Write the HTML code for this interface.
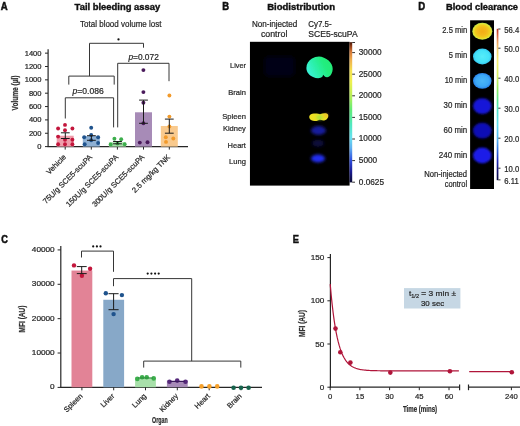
<!DOCTYPE html>
<html><head><meta charset="utf-8"><style>
html,body{margin:0;padding:0;background:#fff;}
svg{display:block;will-change:transform;}
svg text{font-family:"Liberation Sans",sans-serif;stroke:#2a2a2a;stroke-width:0.22px;}
</style></head><body>
<svg width="520" height="426" viewBox="0 0 520 426">
<rect width="520" height="426" fill="#fff"/>
<defs>
<linearGradient id="cbB" x1="0" y1="0" x2="0" y2="1">
<stop offset="0" stop-color="#401408"/><stop offset="0.027" stop-color="#903c18"/><stop offset="0.07" stop-color="#d87a38"/><stop offset="0.127" stop-color="#f0b050"/>
<stop offset="0.2" stop-color="#f4e050"/><stop offset="0.284" stop-color="#eef050"/><stop offset="0.384" stop-color="#b8f058"/><stop offset="0.484" stop-color="#60ec78"/>
<stop offset="0.59" stop-color="#50e8c0"/><stop offset="0.683" stop-color="#68e0f0"/><stop offset="0.755" stop-color="#60b0f0"/><stop offset="0.84" stop-color="#3050e0"/>
<stop offset="0.925" stop-color="#1a1a90"/><stop offset="1" stop-color="#0a0a30"/></linearGradient>
<linearGradient id="cbD" x1="0" y1="0" x2="0" y2="1">
<stop offset="0" stop-color="#b83020"/><stop offset="0.04" stop-color="#d86040"/><stop offset="0.087" stop-color="#eca060"/><stop offset="0.14" stop-color="#f4d070"/>
<stop offset="0.22" stop-color="#f8f070"/><stop offset="0.325" stop-color="#d0f060"/><stop offset="0.4" stop-color="#90ec60"/><stop offset="0.47" stop-color="#58e890"/>
<stop offset="0.54" stop-color="#50e4c8"/><stop offset="0.635" stop-color="#60dcf0"/><stop offset="0.735" stop-color="#50b0f0"/><stop offset="0.8" stop-color="#3070e0"/>
<stop offset="0.866" stop-color="#2030c0"/><stop offset="0.93" stop-color="#141478"/><stop offset="1" stop-color="#0a0a40"/></linearGradient>
<linearGradient id="liv" x1="0" y1="0.7" x2="1" y2="0.3"><stop offset="0" stop-color="#3cf2dc"/><stop offset="0.35" stop-color="#2cf0ac"/><stop offset="0.7" stop-color="#22ee7e"/><stop offset="1" stop-color="#26ea76"/></linearGradient>
<filter id="bl1" x="-30%" y="-30%" width="160%" height="160%"><feGaussianBlur stdDeviation="0.6"/></filter>
<filter id="bl2" x="-50%" y="-50%" width="200%" height="200%"><feGaussianBlur stdDeviation="1.4"/></filter>
<filter id="bl4" x="-30%" y="-30%" width="160%" height="160%"><feGaussianBlur stdDeviation="0.85"/></filter>
<filter id="bl3" x="-50%" y="-50%" width="200%" height="200%"><feGaussianBlur stdDeviation="2"/></filter>
<radialGradient id="c1" cx="0.5" cy="0.5" r="0.5"><stop offset="0" stop-color="#f2ac18"/><stop offset="0.45" stop-color="#f2b81a"/><stop offset="0.72" stop-color="#f0cc1c"/><stop offset="0.88" stop-color="#e6e034"/><stop offset="1" stop-color="#b4e448"/></radialGradient>
<radialGradient id="c2" cx="0.5" cy="0.5" r="0.5"><stop offset="0" stop-color="#56ecfa"/><stop offset="0.75" stop-color="#44e2f8"/><stop offset="1" stop-color="#34c4f0"/></radialGradient>
<radialGradient id="c3" cx="0.5" cy="0.5" r="0.5"><stop offset="0" stop-color="#4ab6f8"/><stop offset="0.7" stop-color="#3ca8f6"/><stop offset="1" stop-color="#2a84ec"/></radialGradient>
</defs>
<text x="0.80" y="9.6" font-size="11.0" font-weight="bold" fill="#111" textLength="6.90" lengthAdjust="spacingAndGlyphs" style="stroke:#111;stroke-width:0.55px">A</text>
<text x="74.60" y="9.9" font-size="9.1" font-weight="bold" fill="#111" textLength="85.60" lengthAdjust="spacingAndGlyphs" style="stroke:#111;stroke-width:0.38px">Tail bleeding assay</text>
<text x="80.10" y="27.0" font-size="9.0" fill="#1e1e1e" textLength="81.30" lengthAdjust="spacingAndGlyphs">Total blood volume lost</text>
<line x1="48.1" y1="49.3" x2="48.1" y2="147.1" stroke="#262626" stroke-width="1.2"/>
<line x1="47.5" y1="146.6" x2="188" y2="146.6" stroke="#262626" stroke-width="1.2"/>
<line x1="45" y1="146.6" x2="48" y2="146.6" stroke="#262626" stroke-width="1.0"/>
<text x="37.30" y="149.0" font-size="7.0" fill="#1e1e1e" textLength="4.20" lengthAdjust="spacingAndGlyphs">0</text>
<line x1="45" y1="133.25" x2="48" y2="133.25" stroke="#262626" stroke-width="1.0"/>
<text x="28.91" y="135.65" font-size="7.0" fill="#1e1e1e" textLength="12.60" lengthAdjust="spacingAndGlyphs">200</text>
<line x1="45" y1="119.89999999999999" x2="48" y2="119.89999999999999" stroke="#262626" stroke-width="1.0"/>
<text x="28.91" y="122.3" font-size="7.0" fill="#1e1e1e" textLength="12.60" lengthAdjust="spacingAndGlyphs">400</text>
<line x1="45" y1="106.54999999999998" x2="48" y2="106.54999999999998" stroke="#262626" stroke-width="1.0"/>
<text x="28.91" y="108.95" font-size="7.0" fill="#1e1e1e" textLength="12.60" lengthAdjust="spacingAndGlyphs">600</text>
<line x1="45" y1="93.19999999999999" x2="48" y2="93.19999999999999" stroke="#262626" stroke-width="1.0"/>
<text x="28.91" y="95.6" font-size="7.0" fill="#1e1e1e" textLength="12.60" lengthAdjust="spacingAndGlyphs">800</text>
<line x1="45" y1="79.85" x2="48" y2="79.85" stroke="#262626" stroke-width="1.0"/>
<text x="24.70" y="82.25" font-size="7.0" fill="#1e1e1e" textLength="16.80" lengthAdjust="spacingAndGlyphs">1000</text>
<line x1="45" y1="66.49999999999999" x2="48" y2="66.49999999999999" stroke="#262626" stroke-width="1.0"/>
<text x="24.70" y="68.9" font-size="7.0" fill="#1e1e1e" textLength="16.80" lengthAdjust="spacingAndGlyphs">1200</text>
<line x1="45" y1="53.14999999999999" x2="48" y2="53.14999999999999" stroke="#262626" stroke-width="1.0"/>
<text x="24.70" y="55.55" font-size="7.0" fill="#1e1e1e" textLength="16.80" lengthAdjust="spacingAndGlyphs">1400</text>
<text transform="translate(17.8,93) rotate(-90)" font-size="8.4" text-anchor="middle" font-weight="bold" fill="#333" textLength="35" lengthAdjust="spacingAndGlyphs">Volume (µl)</text>
<line x1="65.2" y1="146.6" x2="65.2" y2="149.6" stroke="#262626" stroke-width="1.0"/>
<line x1="91.3" y1="146.6" x2="91.3" y2="149.6" stroke="#262626" stroke-width="1.0"/>
<line x1="117.4" y1="146.6" x2="117.4" y2="149.6" stroke="#262626" stroke-width="1.0"/>
<line x1="143.5" y1="146.6" x2="143.5" y2="149.6" stroke="#262626" stroke-width="1.0"/>
<line x1="169.3" y1="146.6" x2="169.3" y2="149.6" stroke="#262626" stroke-width="1.0"/>
<rect x="56.7" y="135.71975" width="17" height="10.88024999999999" fill="#ef9dab"/>
<rect x="82.8" y="135.98675" width="17" height="10.613249999999994" fill="#8eb0d3"/>
<rect x="108.9" y="142.1945" width="17" height="4.405499999999989" fill="#a8e0aa"/>
<rect x="135.0" y="112.2905" width="17" height="34.3095" fill="#a78bb7"/>
<rect x="160.8" y="125.97425" width="17" height="20.625749999999996" fill="#f9ca8e"/>
<circle cx="65" cy="124.9" r="1.95" fill="#c3163c"/>
<circle cx="58.1" cy="128.5" r="1.95" fill="#c3163c"/>
<circle cx="65" cy="130.3" r="1.95" fill="#c3163c"/>
<circle cx="72.4" cy="128.5" r="1.95" fill="#c3163c"/>
<circle cx="58.1" cy="136.6" r="1.95" fill="#c3163c"/>
<circle cx="65" cy="139.7" r="1.95" fill="#c3163c"/>
<circle cx="72.4" cy="139.7" r="1.95" fill="#c3163c"/>
<circle cx="58.1" cy="144.3" r="1.95" fill="#c3163c"/>
<circle cx="65" cy="144.3" r="1.95" fill="#c3163c"/>
<circle cx="72.4" cy="144.3" r="1.95" fill="#c3163c"/>
<circle cx="91.2" cy="127.7" r="1.95" fill="#1f538d"/>
<circle cx="84.2" cy="137.2" r="1.95" fill="#1f538d"/>
<circle cx="91.2" cy="135" r="1.95" fill="#1f538d"/>
<circle cx="98.1" cy="137.2" r="1.95" fill="#1f538d"/>
<circle cx="91.2" cy="140.3" r="1.95" fill="#1f538d"/>
<circle cx="84.7" cy="144.3" r="1.95" fill="#1f538d"/>
<circle cx="98.1" cy="143" r="1.95" fill="#1f538d"/>
<circle cx="114.4" cy="138.7" r="1.95" fill="#3cae4c"/>
<circle cx="121.2" cy="139.3" r="1.95" fill="#3cae4c"/>
<circle cx="110.7" cy="144.5" r="1.95" fill="#3cae4c"/>
<circle cx="124.7" cy="144.2" r="1.95" fill="#3cae4c"/>
<circle cx="117.5" cy="143.5" r="1.95" fill="#3cae4c"/>
<circle cx="143.4" cy="70.1" r="1.95" fill="#4a1a5b"/>
<circle cx="143.4" cy="92.1" r="1.95" fill="#4a1a5b"/>
<circle cx="143.4" cy="102.8" r="1.95" fill="#4a1a5b"/>
<circle cx="143.4" cy="123.3" r="1.95" fill="#4a1a5b"/>
<circle cx="139.8" cy="142.6" r="1.95" fill="#4a1a5b"/>
<circle cx="147.5" cy="142.2" r="1.95" fill="#4a1a5b"/>
<circle cx="169.4" cy="95.5" r="1.95" fill="#f29a2a"/>
<circle cx="169.4" cy="116.6" r="1.95" fill="#f29a2a"/>
<circle cx="169.4" cy="126.5" r="1.95" fill="#f29a2a"/>
<circle cx="165.8" cy="137.3" r="1.95" fill="#f29a2a"/>
<circle cx="173.3" cy="138.5" r="1.95" fill="#f29a2a"/>
<circle cx="166" cy="141.9" r="1.95" fill="#f29a2a"/>
<line x1="65.3" y1="132.8" x2="65.3" y2="138.5" stroke="#1a1a1a" stroke-width="1.0"/>
<line x1="60.9" y1="132.8" x2="69.7" y2="132.8" stroke="#1a1a1a" stroke-width="1.0"/>
<line x1="60.9" y1="138.5" x2="69.7" y2="138.5" stroke="#1a1a1a" stroke-width="1.0"/>
<line x1="91.4" y1="135.7" x2="91.4" y2="140.3" stroke="#1a1a1a" stroke-width="1.0"/>
<line x1="87.0" y1="135.7" x2="95.80000000000001" y2="135.7" stroke="#1a1a1a" stroke-width="1.0"/>
<line x1="87.0" y1="140.3" x2="95.80000000000001" y2="140.3" stroke="#1a1a1a" stroke-width="1.0"/>
<line x1="117.5" y1="141.5" x2="117.5" y2="143.8" stroke="#1a1a1a" stroke-width="1.0"/>
<line x1="113.1" y1="141.5" x2="121.9" y2="141.5" stroke="#1a1a1a" stroke-width="1.0"/>
<line x1="113.1" y1="143.8" x2="121.9" y2="143.8" stroke="#1a1a1a" stroke-width="1.0"/>
<line x1="143.5" y1="100.1" x2="143.5" y2="123.3" stroke="#1a1a1a" stroke-width="1.0"/>
<line x1="139.1" y1="100.1" x2="147.9" y2="100.1" stroke="#1a1a1a" stroke-width="1.0"/>
<line x1="139.1" y1="123.3" x2="147.9" y2="123.3" stroke="#1a1a1a" stroke-width="1.0"/>
<line x1="169.3" y1="119.1" x2="169.3" y2="133.2" stroke="#1a1a1a" stroke-width="1.0"/>
<line x1="164.9" y1="119.1" x2="173.70000000000002" y2="119.1" stroke="#1a1a1a" stroke-width="1.0"/>
<line x1="164.9" y1="133.2" x2="173.70000000000002" y2="133.2" stroke="#1a1a1a" stroke-width="1.0"/>
<polyline points="89.5,76.1 89.5,43.3 143.5,43.3 143.5,47.7" fill="none" stroke="#363636" stroke-width="1.0"/>
<circle cx="118.5" cy="39.4" r="1.15" fill="#111"/>
<polyline points="68.8,84.6 68.8,76.1 114.2,76.1 114.2,84.6" fill="none" stroke="#363636" stroke-width="1.0"/>
<polyline points="65.3,118.5 65.3,97.8 113.6,97.8 113.6,127.4" fill="none" stroke="#363636" stroke-width="1.0"/>
<text x="72.60" y="93.7" font-size="8.9" fill="#1e1e1e" textLength="31.20" lengthAdjust="spacingAndGlyphs"><tspan font-style="italic">p</tspan>=0.086</text>
<polyline points="117.7,127.4 117.7,63.3 169.0,63.3 169.0,81.2" fill="none" stroke="#363636" stroke-width="1.0"/>
<text x="128.40" y="60.0" font-size="8.9" fill="#1e1e1e" textLength="30.40" lengthAdjust="spacingAndGlyphs"><tspan font-style="italic">p</tspan>=0.072</text>
<text transform="translate(66.60000000000001,157.6) rotate(-45)" font-size="7.6" text-anchor="end" fill="#1e1e1e">Vehicle</text>
<text transform="translate(92.7,157.6) rotate(-45)" font-size="7.6" text-anchor="end" fill="#1e1e1e">75U/g SCE5-scuPA</text>
<text transform="translate(118.80000000000001,157.6) rotate(-45)" font-size="7.6" text-anchor="end" fill="#1e1e1e">150U/g SCE5-scuPA</text>
<text transform="translate(144.9,157.6) rotate(-45)" font-size="7.6" text-anchor="end" fill="#1e1e1e">300U/g SCE5-scuPA</text>
<text transform="translate(170.70000000000002,157.6) rotate(-45)" font-size="7.6" text-anchor="end" fill="#1e1e1e">2.5 mg/kg TNK</text>
<text x="222.20" y="9.9" font-size="11.4" font-weight="bold" fill="#111" textLength="6.80" lengthAdjust="spacingAndGlyphs" style="stroke:#111;stroke-width:0.55px">B</text>
<text x="267.20" y="9.9" font-size="9.3" font-weight="bold" fill="#111" textLength="67.80" lengthAdjust="spacingAndGlyphs" style="stroke:#111;stroke-width:0.38px">Biodistribution</text>
<text x="251.90" y="27.3" font-size="8.3" fill="#1e1e1e" textLength="45.40" lengthAdjust="spacingAndGlyphs">Non-injected</text>
<text x="260.90" y="36.9" font-size="8.3" fill="#1e1e1e" textLength="26.50" lengthAdjust="spacingAndGlyphs">control</text>
<text x="308.30" y="27.4" font-size="8.3" fill="#1e1e1e" textLength="23.30" lengthAdjust="spacingAndGlyphs">Cy7.5-</text>
<text x="308.30" y="36.9" font-size="8.3" fill="#1e1e1e" textLength="49.30" lengthAdjust="spacingAndGlyphs">SCE5-scuPA</text>
<rect x="249.95" y="41.8" width="99.65" height="143.8" fill="#000"/>
<text x="230.10" y="67.7" font-size="8.0" fill="#1e1e1e" textLength="15.80" lengthAdjust="spacingAndGlyphs">Liver</text>
<text x="228.30" y="94.9" font-size="8.0" fill="#1e1e1e" textLength="17.60" lengthAdjust="spacingAndGlyphs">Brain</text>
<text x="222.20" y="119.3" font-size="8.0" fill="#1e1e1e" textLength="23.70" lengthAdjust="spacingAndGlyphs">Spleen</text>
<text x="222.90" y="131.2" font-size="8.0" fill="#1e1e1e" textLength="23.00" lengthAdjust="spacingAndGlyphs">Kidney</text>
<text x="227.60" y="148.1" font-size="8.0" fill="#1e1e1e" textLength="18.30" lengthAdjust="spacingAndGlyphs">Heart</text>
<text x="229.00" y="164.3" font-size="8.0" fill="#1e1e1e" textLength="16.90" lengthAdjust="spacingAndGlyphs">Lung</text>
<rect x="349.5" y="42.2" width="2.7" height="140.2" fill="url(#cbB)"/>
<line x1="352.2" y1="42.5" x2="355" y2="42.5" stroke="#333" stroke-width="1.0"/>
<line x1="352.2" y1="52.599999999999994" x2="355" y2="52.599999999999994" stroke="#333" stroke-width="1.0"/>
<text x="358.80" y="55.0" font-size="8.2" fill="#1e1e1e" textLength="22.90" lengthAdjust="spacingAndGlyphs">30000</text>
<line x1="352.2" y1="74.19999999999999" x2="355" y2="74.19999999999999" stroke="#333" stroke-width="1.0"/>
<text x="358.80" y="76.6" font-size="8.2" fill="#1e1e1e" textLength="22.90" lengthAdjust="spacingAndGlyphs">25000</text>
<line x1="352.2" y1="95.79999999999998" x2="355" y2="95.79999999999998" stroke="#333" stroke-width="1.0"/>
<text x="358.80" y="98.2" font-size="8.2" fill="#1e1e1e" textLength="22.90" lengthAdjust="spacingAndGlyphs">20000</text>
<line x1="352.2" y1="117.39999999999999" x2="355" y2="117.39999999999999" stroke="#333" stroke-width="1.0"/>
<text x="358.80" y="119.8" font-size="8.2" fill="#1e1e1e" textLength="22.90" lengthAdjust="spacingAndGlyphs">15000</text>
<line x1="352.2" y1="139.0" x2="355" y2="139.0" stroke="#333" stroke-width="1.0"/>
<text x="358.80" y="141.4" font-size="8.2" fill="#1e1e1e" textLength="22.90" lengthAdjust="spacingAndGlyphs">10000</text>
<line x1="352.2" y1="160.6" x2="355" y2="160.6" stroke="#333" stroke-width="1.0"/>
<text x="358.80" y="163.0" font-size="8.2" fill="#1e1e1e" textLength="18.32" lengthAdjust="spacingAndGlyphs">5000</text>
<line x1="352.2" y1="182.2" x2="355" y2="182.2" stroke="#333" stroke-width="1.0"/>
<text x="358.80" y="184.6" font-size="8.2" fill="#1e1e1e" textLength="25.19" lengthAdjust="spacingAndGlyphs">0.0625</text>
<rect x="264" y="56" width="31" height="20.5" rx="5" fill="#040313" filter="url(#bl3)"/>
<path d="M319,56.4 C322,56.6 326,58 328.6,60.4 C331.2,62.8 332.8,65.8 332.7,69 C332.6,72 331.5,75 329.2,76.6 C327.5,77.6 325.5,77.3 324.2,75.9 L323.2,74.8 L322.4,76.8 C320.5,78.6 316.5,78.6 313,77 C309,75.3 306.4,72 306.4,68 C306.4,64 308.6,60.6 312,58.6 C314.2,57.2 316.5,56.4 319,56.4 Z" fill="url(#liv)" filter="url(#bl1)"/>
<path d="M310,115 C312,112.8 318,113.2 320,114.2 C323,113 327,112.8 328,114.5 C329,117 327,120.3 324,120.5 C321.5,120.8 320,119.2 318.5,120.2 C315,121.8 310.5,121 309.6,118.5 C309,117 309.2,116 310,115 Z" fill="#ecdf22" filter="url(#bl1)"/>
<ellipse cx="319.5" cy="117.5" rx="3" ry="2.2" fill="#a0e040" filter="url(#bl2)"/>
<ellipse cx="326" cy="115.2" rx="1.6" ry="1.2" fill="#f0a030" filter="url(#bl2)"/>
<ellipse cx="318.5" cy="130.5" rx="7.5" ry="4.4" fill="#161c9c" filter="url(#bl2)"/>
<ellipse cx="318" cy="143.3" rx="6" ry="3.6" fill="#08083a" filter="url(#bl2)"/>
<ellipse cx="318" cy="158.5" rx="7" ry="3.9" fill="#222ef0" filter="url(#bl2)"/>
<text x="418.30" y="9.8" font-size="11.4" font-weight="bold" fill="#111" textLength="6.90" lengthAdjust="spacingAndGlyphs" style="stroke:#111;stroke-width:0.55px">D</text>
<text x="446.00" y="9.95" font-size="9.5" font-weight="bold" fill="#111" textLength="72.00" lengthAdjust="spacingAndGlyphs" style="stroke:#111;stroke-width:0.38px">Blood clearance</text>
<rect x="470.1" y="20.3" width="23.9" height="168.7" fill="#000"/>
<ellipse cx="482.3" cy="31.35" rx="10" ry="8.5" fill="url(#c1)" filter="url(#bl1)"/>
<ellipse cx="482.3" cy="56.5" rx="9.3" ry="7.9" fill="url(#c2)" filter="url(#bl1)"/>
<ellipse cx="482.3" cy="80.8" rx="9.3" ry="7.9" fill="url(#c3)" filter="url(#bl1)"/>
<ellipse cx="482.3" cy="106.1" rx="9.3" ry="7.9" fill="#1616d8" filter="url(#bl4)"/>
<ellipse cx="482.3" cy="130.6" rx="9.3" ry="7.9" fill="#1010b6" filter="url(#bl4)"/>
<ellipse cx="482.3" cy="155.5" rx="9.3" ry="7.9" fill="#1c1ce8" filter="url(#bl4)"/>
<text x="442.30" y="32.8" font-size="8.3" fill="#1e1e1e" textLength="24.90" lengthAdjust="spacingAndGlyphs">2.5 min</text>
<text x="448.80" y="57.8" font-size="8.3" fill="#1e1e1e" textLength="18.40" lengthAdjust="spacingAndGlyphs">5 min</text>
<text x="444.70" y="83.3" font-size="8.3" fill="#1e1e1e" textLength="22.50" lengthAdjust="spacingAndGlyphs">10 min</text>
<text x="443.50" y="107.9" font-size="8.3" fill="#1e1e1e" textLength="23.70" lengthAdjust="spacingAndGlyphs">30 min</text>
<text x="443.50" y="133.3" font-size="8.3" fill="#1e1e1e" textLength="23.70" lengthAdjust="spacingAndGlyphs">60 min</text>
<text x="438.80" y="158.4" font-size="8.3" fill="#1e1e1e" textLength="28.40" lengthAdjust="spacingAndGlyphs">240 min</text>
<text x="424.30" y="177.2" font-size="8.3" fill="#1e1e1e" textLength="42.80" lengthAdjust="spacingAndGlyphs">Non-injected</text>
<text x="444.70" y="186.5" font-size="8.3" fill="#1e1e1e" textLength="22.40" lengthAdjust="spacingAndGlyphs">control</text>
<rect x="496.7" y="28.8" width="1.7" height="151.4" fill="url(#cbD)"/>
<line x1="498.3" y1="29.000000000000007" x2="500.5" y2="29.000000000000007" stroke="#333" stroke-width="1.0"/>
<text x="504.30" y="32.8" font-size="8.3" fill="#1e1e1e" textLength="15.00" lengthAdjust="spacingAndGlyphs">56.4</text>
<line x1="498.3" y1="48.2" x2="500.5" y2="48.2" stroke="#333" stroke-width="1.0"/>
<text x="504.30" y="52.0" font-size="8.3" fill="#1e1e1e" textLength="15.00" lengthAdjust="spacingAndGlyphs">50.0</text>
<line x1="498.3" y1="78.2" x2="500.5" y2="78.2" stroke="#333" stroke-width="1.0"/>
<text x="504.30" y="82.0" font-size="8.3" fill="#1e1e1e" textLength="15.00" lengthAdjust="spacingAndGlyphs">40.0</text>
<line x1="498.3" y1="108.2" x2="500.5" y2="108.2" stroke="#333" stroke-width="1.0"/>
<text x="504.30" y="112.0" font-size="8.3" fill="#1e1e1e" textLength="15.00" lengthAdjust="spacingAndGlyphs">30.0</text>
<line x1="498.3" y1="138.2" x2="500.5" y2="138.2" stroke="#333" stroke-width="1.0"/>
<text x="504.30" y="142.0" font-size="8.3" fill="#1e1e1e" textLength="15.00" lengthAdjust="spacingAndGlyphs">20.0</text>
<line x1="498.3" y1="168.2" x2="500.5" y2="168.2" stroke="#333" stroke-width="1.0"/>
<text x="504.30" y="172.0" font-size="8.3" fill="#1e1e1e" textLength="15.00" lengthAdjust="spacingAndGlyphs">10.0</text>
<line x1="498.3" y1="179.87" x2="500.5" y2="179.87" stroke="#333" stroke-width="1.0"/>
<text x="504.30" y="183.67" font-size="8.3" fill="#1e1e1e" textLength="14.43" lengthAdjust="spacingAndGlyphs">6.11</text>
<text x="1.25" y="242.8" font-size="11.6" font-weight="bold" fill="#111" textLength="6.60" lengthAdjust="spacingAndGlyphs" style="stroke:#111;stroke-width:0.55px">C</text>
<line x1="60.8" y1="246" x2="60.8" y2="387.8" stroke="#262626" stroke-width="1.2"/>
<line x1="60.2" y1="387.3" x2="262" y2="387.3" stroke="#262626" stroke-width="1.2"/>
<line x1="57.6" y1="387.4" x2="60.8" y2="387.4" stroke="#262626" stroke-width="1.0"/>
<text x="50.12" y="389.3" font-size="7.5" fill="#1e1e1e" textLength="4.58" lengthAdjust="spacingAndGlyphs">0</text>
<line x1="57.6" y1="353.03" x2="60.8" y2="353.03" stroke="#262626" stroke-width="1.0"/>
<text x="31.80" y="354.93" font-size="7.5" fill="#1e1e1e" textLength="22.90" lengthAdjust="spacingAndGlyphs">10000</text>
<line x1="57.6" y1="318.65999999999997" x2="60.8" y2="318.65999999999997" stroke="#262626" stroke-width="1.0"/>
<text x="31.80" y="320.56" font-size="7.5" fill="#1e1e1e" textLength="22.90" lengthAdjust="spacingAndGlyphs">20000</text>
<line x1="57.6" y1="284.28999999999996" x2="60.8" y2="284.28999999999996" stroke="#262626" stroke-width="1.0"/>
<text x="31.80" y="286.19" font-size="7.5" fill="#1e1e1e" textLength="22.90" lengthAdjust="spacingAndGlyphs">30000</text>
<line x1="57.6" y1="249.92" x2="60.8" y2="249.92" stroke="#262626" stroke-width="1.0"/>
<text x="31.80" y="251.82" font-size="7.5" fill="#1e1e1e" textLength="22.90" lengthAdjust="spacingAndGlyphs">40000</text>
<text transform="translate(25.1,319) rotate(-90)" font-size="8.2" text-anchor="middle" font-weight="bold" fill="#333" textLength="27" lengthAdjust="spacingAndGlyphs">MFI (AU)</text>
<rect x="71.5" y="270.542" width="20.8" height="116.75800000000004" fill="#e28396"/>
<line x1="81.9" y1="387.3" x2="81.9" y2="390.3" stroke="#262626" stroke-width="1.0"/>
<rect x="103.3" y="299.75649999999996" width="20.8" height="87.54350000000005" fill="#87a8c8"/>
<line x1="113.7" y1="387.3" x2="113.7" y2="390.3" stroke="#262626" stroke-width="1.0"/>
<rect x="135.1" y="377.43269999999995" width="20.8" height="9.867300000000057" fill="#a8e0aa"/>
<line x1="145.5" y1="387.3" x2="145.5" y2="390.3" stroke="#262626" stroke-width="1.0"/>
<rect x="166.9" y="380.52599999999995" width="20.8" height="6.774000000000058" fill="#a78bb7"/>
<line x1="177.3" y1="387.3" x2="177.3" y2="390.3" stroke="#262626" stroke-width="1.0"/>
<line x1="209.2" y1="387.3" x2="209.2" y2="390.3" stroke="#262626" stroke-width="1.0"/>
<line x1="241" y1="387.3" x2="241" y2="390.3" stroke="#262626" stroke-width="1.0"/>
<circle cx="74" cy="265.4" r="2.2" fill="#c3163c"/>
<circle cx="90.1" cy="268.8" r="2.2" fill="#c3163c"/>
<circle cx="81.9" cy="275.8" r="2.2" fill="#c3163c"/>
<circle cx="105.8" cy="293.2" r="2.2" fill="#1f538d"/>
<circle cx="121.9" cy="295.1" r="2.2" fill="#1f538d"/>
<circle cx="113.6" cy="314.1" r="2.2" fill="#1f538d"/>
<line x1="81.7" y1="266.6" x2="81.7" y2="273.6" stroke="#1a1a1a" stroke-width="1.0"/>
<line x1="76.8" y1="266.6" x2="86.7" y2="266.6" stroke="#1a1a1a" stroke-width="1.0"/>
<line x1="76.8" y1="273.6" x2="86.7" y2="273.6" stroke="#1a1a1a" stroke-width="1.0"/>
<line x1="113.6" y1="293.7" x2="113.6" y2="309.7" stroke="#1a1a1a" stroke-width="1.0"/>
<line x1="108.5" y1="293.7" x2="118.6" y2="293.7" stroke="#1a1a1a" stroke-width="1.0"/>
<line x1="108.5" y1="309.7" x2="118.6" y2="309.7" stroke="#1a1a1a" stroke-width="1.0"/>
<circle cx="137.3" cy="378.9" r="2.3" fill="#3cae4c"/>
<circle cx="142.1" cy="377.2" r="2.3" fill="#3cae4c"/>
<circle cx="146.7" cy="377.2" r="2.3" fill="#3cae4c"/>
<circle cx="153.7" cy="378.4" r="2.3" fill="#3cae4c"/>
<line x1="138" y1="378" x2="153" y2="378" stroke="#2a8a3a" stroke-width="1.0"/>
<circle cx="169.5" cy="381.8" r="2.3" fill="#55287a"/>
<circle cx="177.2" cy="380.6" r="2.3" fill="#55287a"/>
<circle cx="185.5" cy="381.8" r="2.3" fill="#55287a"/>
<line x1="170" y1="381.5" x2="184.6" y2="381.5" stroke="#3a1a5a" stroke-width="1.0"/>
<circle cx="201.5" cy="386.4" r="2.3" fill="#f5a02a"/>
<circle cx="209.4" cy="386.4" r="2.3" fill="#f5a02a"/>
<circle cx="217.2" cy="386.4" r="2.3" fill="#f5a02a"/>
<circle cx="233.6" cy="387.8" r="2.3" fill="#16634c"/>
<circle cx="241" cy="387.8" r="2.3" fill="#16634c"/>
<circle cx="248.6" cy="387.8" r="2.3" fill="#16634c"/>
<polyline points="81.5,257.5 81.5,251.1 113.5,251.1 113.5,271.8" fill="none" stroke="#363636" stroke-width="1.0"/>
<circle cx="93.2" cy="246.4" r="1.1" fill="#111"/>
<circle cx="96.9" cy="246.4" r="1.1" fill="#111"/>
<circle cx="100.5" cy="246.4" r="1.1" fill="#111"/>
<polyline points="113.5,286.2 113.5,278.6 191.7,278.6 191.7,361.1" fill="none" stroke="#363636" stroke-width="1.0"/>
<circle cx="147.7" cy="273.6" r="1.1" fill="#111"/>
<circle cx="151.4" cy="273.6" r="1.1" fill="#111"/>
<circle cx="155.1" cy="273.6" r="1.1" fill="#111"/>
<circle cx="158.7" cy="273.6" r="1.1" fill="#111"/>
<polyline points="143.7,367.6 143.7,361.1 240.8,361.1 240.8,367.6" fill="none" stroke="#363636" stroke-width="1.0"/>
<text transform="translate(83.10000000000001,396.5) rotate(-45)" font-size="7.4" text-anchor="end" fill="#1e1e1e">Spleen</text>
<text transform="translate(114.9,396.5) rotate(-45)" font-size="7.4" text-anchor="end" fill="#1e1e1e">Liver</text>
<text transform="translate(146.7,396.5) rotate(-45)" font-size="7.4" text-anchor="end" fill="#1e1e1e">Lung</text>
<text transform="translate(178.5,396.5) rotate(-45)" font-size="7.4" text-anchor="end" fill="#1e1e1e">Kidney</text>
<text transform="translate(210.39999999999998,396.5) rotate(-45)" font-size="7.4" text-anchor="end" fill="#1e1e1e">Heart</text>
<text transform="translate(242.2,396.5) rotate(-45)" font-size="7.4" text-anchor="end" fill="#1e1e1e">Brain</text>
<text x="159.85" y="423" font-size="9.2" text-anchor="middle" font-weight="bold" fill="#2a2a2a" textLength="15.6" lengthAdjust="spacingAndGlyphs">Organ</text>
<text x="292.80" y="242.7" font-size="11.4" font-weight="bold" fill="#111" textLength="6.20" lengthAdjust="spacingAndGlyphs" style="stroke:#111;stroke-width:0.55px">E</text>
<line x1="330.4" y1="254" x2="330.4" y2="387.7" stroke="#262626" stroke-width="1.2"/>
<line x1="329.8" y1="387.2" x2="459.6" y2="387.2" stroke="#262626" stroke-width="1.2"/>
<line x1="468.5" y1="387.2" x2="520" y2="387.2" stroke="#262626" stroke-width="1.2"/>
<line x1="459.6" y1="384.5" x2="459.6" y2="390.2" stroke="#262626" stroke-width="1.2"/>
<line x1="468.5" y1="384.5" x2="468.5" y2="390.2" stroke="#262626" stroke-width="1.2"/>
<line x1="327.4" y1="387.2" x2="330.4" y2="387.2" stroke="#262626" stroke-width="1.0"/>
<text x="319.87" y="389.7" font-size="7.7" fill="#1e1e1e" textLength="4.53" lengthAdjust="spacingAndGlyphs">0</text>
<line x1="327.4" y1="344.0" x2="330.4" y2="344.0" stroke="#262626" stroke-width="1.0"/>
<text x="315.33" y="346.5" font-size="7.7" fill="#1e1e1e" textLength="9.07" lengthAdjust="spacingAndGlyphs">50</text>
<line x1="327.4" y1="300.79999999999995" x2="330.4" y2="300.79999999999995" stroke="#262626" stroke-width="1.0"/>
<text x="310.80" y="303.3" font-size="7.7" fill="#1e1e1e" textLength="13.60" lengthAdjust="spacingAndGlyphs">100</text>
<line x1="327.4" y1="257.6" x2="330.4" y2="257.6" stroke="#262626" stroke-width="1.0"/>
<text x="310.80" y="260.1" font-size="7.7" fill="#1e1e1e" textLength="13.60" lengthAdjust="spacingAndGlyphs">150</text>
<line x1="330.2" y1="387.2" x2="330.2" y2="390.2" stroke="#262626" stroke-width="1.0"/>
<text x="330.2" y="399.2" font-size="7.7" text-anchor="middle" fill="#1e1e1e">0</text>
<line x1="359.9" y1="387.2" x2="359.9" y2="390.2" stroke="#262626" stroke-width="1.0"/>
<text x="359.9" y="399.2" font-size="7.7" text-anchor="middle" fill="#1e1e1e">15</text>
<line x1="389.59999999999997" y1="387.2" x2="389.59999999999997" y2="390.2" stroke="#262626" stroke-width="1.0"/>
<text x="389.59999999999997" y="399.2" font-size="7.7" text-anchor="middle" fill="#1e1e1e">30</text>
<line x1="419.29999999999995" y1="387.2" x2="419.29999999999995" y2="390.2" stroke="#262626" stroke-width="1.0"/>
<text x="419.29999999999995" y="399.2" font-size="7.7" text-anchor="middle" fill="#1e1e1e">45</text>
<line x1="449.0" y1="387.2" x2="449.0" y2="390.2" stroke="#262626" stroke-width="1.0"/>
<text x="449.0" y="399.2" font-size="7.7" text-anchor="middle" fill="#1e1e1e">60</text>
<line x1="511.4" y1="387.2" x2="511.4" y2="390.2" stroke="#262626" stroke-width="1.0"/>
<text x="511.4" y="399.2" font-size="7.7" text-anchor="middle" fill="#1e1e1e">240</text>
<text transform="translate(305.1,323.5) rotate(-90)" font-size="8.2" text-anchor="middle" font-weight="bold" fill="#333" textLength="27" lengthAdjust="spacingAndGlyphs">MFI (AU)</text>
<text x="420" y="411.5" font-size="8.8" text-anchor="middle" font-weight="bold" fill="#2a2a2a" textLength="34.2" lengthAdjust="spacingAndGlyphs">Time (mins)</text>
<polyline points="330.2,284.12 331.19,295.08 332.18,304.65 333.17,313.01 334.16,320.32 335.15,326.7 336.14,332.28 337.13,337.15 338.12,341.41 339.11,345.13 340.1,348.38 341.09,351.22 342.08,353.7 343.07,355.87 344.06,357.77 345.05,359.42 346.04,360.87 347.03,362.13 348.02,363.23 349.01,364.2 350.0,365.04 350.99,365.78 351.98,366.42 352.97,366.98 353.96,367.47 354.95,367.9 355.94,368.28 356.93,368.6 357.92,368.89 358.91,369.14 359.9,369.36 360.89,369.55 361.88,369.72 362.87,369.86 363.86,369.99 364.85,370.1 365.84,370.2 366.83,370.28 367.82,370.36 368.81,370.42 369.8,370.48 370.79,370.53 371.78,370.57 372.77,370.61 373.76,370.64 374.75,370.67 375.74,370.7 376.73,370.72 377.72,370.74 378.71,370.75 379.7,370.77 380.69,370.78 381.68,370.79 382.67,370.8 383.66,370.81 384.65,370.82 385.64,370.83 386.63,370.83 387.62,370.84 388.61,370.84 389.6,370.84 390.59,370.85 391.58,370.85 392.57,370.85 393.56,370.86 394.55,370.86 395.54,370.86 396.53,370.86 397.52,370.86 398.51,370.86 399.5,370.86 400.49,370.86 401.48,370.87 402.47,370.87 403.46,370.87 404.45,370.87 405.44,370.87 406.43,370.87 407.42,370.87 408.41,370.87 409.4,370.87 410.39,370.87 411.38,370.87 412.37,370.87 413.36,370.87 414.35,370.87 415.34,370.87 416.33,370.87 417.32,370.87 418.31,370.87 419.3,370.87 420.29,370.87 421.28,370.87 422.27,370.87 423.26,370.87 424.25,370.87 425.24,370.87 426.23,370.87 427.22,370.87 428.21,370.87 429.2,370.87 430.19,370.87 431.18,370.87 432.17,370.87 433.16,370.87 434.15,370.87 435.14,370.87 436.13,370.87 437.12,370.87 438.11,370.87 439.1,370.87 440.09,370.87 441.08,370.87 442.07,370.87 443.06,370.87 444.05,370.87 445.04,370.87 446.03,370.87 447.02,370.87 448.01,370.87 449.0,370.87 449.99,370.87 450.98,370.87 451.97,370.87 452.96,370.87 453.95,370.87 454.94,370.87 455.93,370.87 456.92,370.87 457.91,370.87 458.9,370.87" fill="none" stroke="#b0153a" stroke-width="1.2"/>
<line x1="469.2" y1="371.6" x2="512" y2="371.6" stroke="#b0153a" stroke-width="1.2"/>
<circle cx="335.5" cy="328.6" r="2.3" fill="#b0153a"/>
<circle cx="340.3" cy="352.3" r="2.3" fill="#b0153a"/>
<circle cx="350.4" cy="362.6" r="2.3" fill="#b0153a"/>
<circle cx="390.3" cy="372.6" r="2.3" fill="#b0153a"/>
<circle cx="449.9" cy="371.2" r="2.3" fill="#b0153a"/>
<circle cx="511.8" cy="372.3" r="2.3" fill="#b0153a"/>
<rect x="404" y="288.1" width="56.4" height="20.4" fill="#c6d7e4"/>
<text x="409" y="296.1" font-size="8.1" fill="#1e1e1e">t<tspan font-size="5.6" dy="1.7">1/2</tspan><tspan dy="-1.7" textLength="37" lengthAdjust="spacingAndGlyphs"> = 3 min ±</tspan></text>
<text x="432.6" y="305.6" font-size="7.9" text-anchor="middle" fill="#1e1e1e">30 sec</text>
</svg></body></html>
